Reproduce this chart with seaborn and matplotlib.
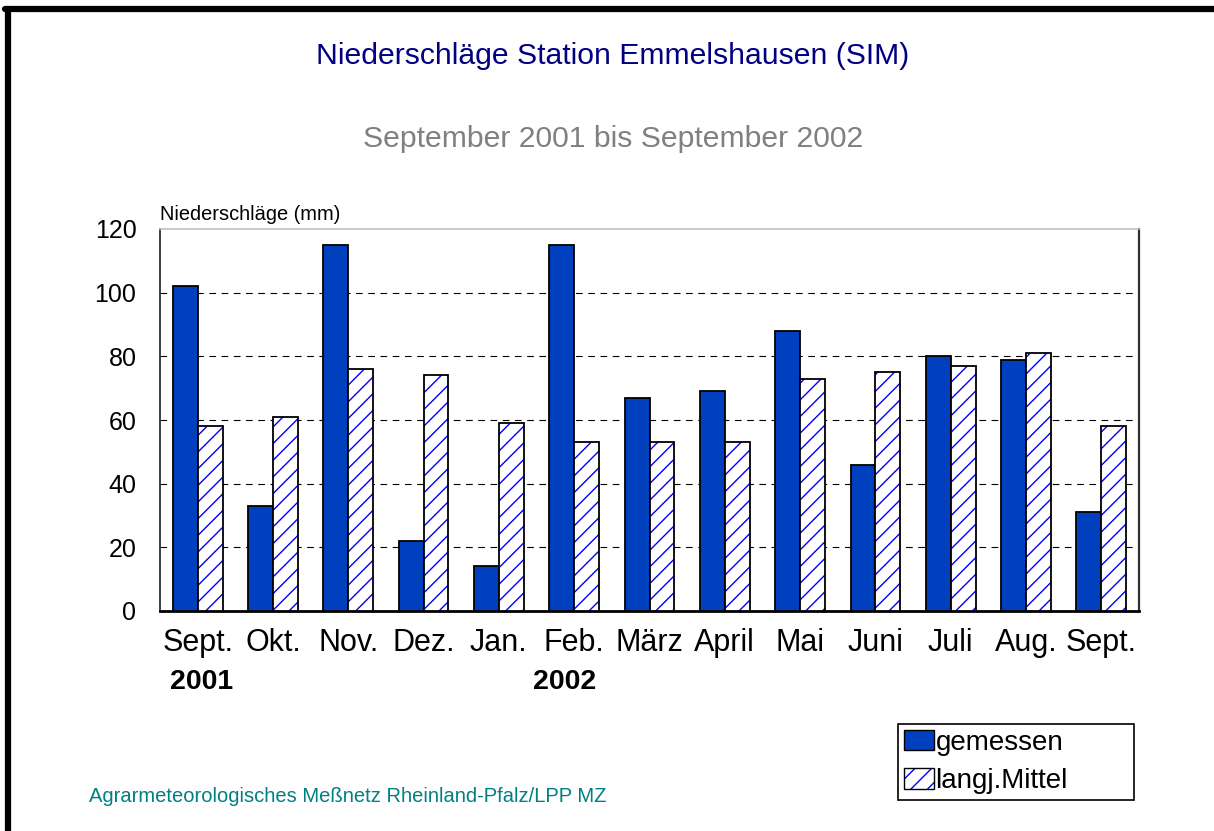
import numpy as np
import pandas as pd
import matplotlib
matplotlib.use("Agg")
import matplotlib.pyplot as plt
import matplotlib.colors as mcolors
from matplotlib.lines import Line2D
from matplotlib.patches import Patch
from matplotlib.transforms import blended_transform_factory
import seaborn as sns

# --- data ---
monat_keys = ["Sept01", "Okt", "Nov", "Dez", "Jan", "Feb", "Maerz",
              "April", "Mai", "Juni", "Juli", "Aug", "Sept02"]
monat_labels = ["Sept.", "Okt.", "Nov.", "Dez.", "Jan.", "Feb.", "März",
                "April", "Mai", "Juni", "Juli", "Aug.", "Sept."]
gemessen = [102, 33, 115, 22, 14, 115, 67, 69, 88, 46, 80, 79, 31]
langj_mittel = [58, 61, 76, 74, 59, 53, 53, 53, 73, 75, 77, 81, 58]
reihen = ["gemessen", "langj.Mittel"]
jahre = {"2001": 0, "2002": 5}
y_ticks = [0, 20, 40, 60, 80, 100, 120]

BLUE = "#0040BF"
HATCH_BLUE = "#0000FF"

df = pd.DataFrame({
    "monat": monat_keys * 2,
    "wert": gemessen + langj_mittel,
    "reihe": [reihen[0]] * len(monat_keys) + [reihen[1]] * len(monat_keys),
})

sns.set_style("white")
plt.rcParams["font.family"] = "Liberation Sans"
plt.rcParams["hatch.linewidth"] = 1.0
for key in ["text.color", "xtick.color", "ytick.color", "axes.labelcolor"]:
    plt.rcParams[key] = "black"

fig = plt.figure(figsize=(12.14, 8.31), dpi=100)
ax = fig.add_axes([160 / 1214, 1 - 611 / 831, (1139 - 160) / 1214, (611 - 229) / 831])

sns.barplot(data=df, x="monat", y="wert", hue="reihe", order=monat_keys,
            hue_order=reihen, palette=[BLUE, "white"], width=0.66,
            edgecolor="black", linewidth=1.3, errorbar=None, legend=False,
            saturation=1, ax=ax, zorder=3)

# hatched long-term mean: blue hatch lines, black outline
for p in ax.containers[1]:
    p.set_hatch("//")
    p._hatch_color = mcolors.to_rgba(HATCH_BLUE)
    p.stale = True

ax.set_ylim(0, 120)
ax.set_yticks(y_ticks)
ax.set_xlim(-0.5, len(monat_keys) - 0.5)
ax.set_xticks(range(len(monat_keys)))
ax.set_xticklabels(monat_labels, fontsize=22)
for lbl in ax.get_xticklabels():
    lbl.set_verticalalignment("baseline")
ax.tick_params(axis="y", labelsize=18, length=0, pad=17)
ax.tick_params(axis="x", length=0, pad=28.5)
ax.set_xlabel("")
ax.set_ylabel("")

for v in y_ticks[1:-1]:
    ax.axhline(v, color="black", linewidth=0.8, linestyle=(0, (6, 5)), zorder=1)

ax.spines["top"].set_color("#C0C0C0")
ax.spines["top"].set_linewidth(1.2)
ax.spines["right"].set_color("#303030")
ax.spines["right"].set_linewidth(1.6)
ax.spines["left"].set_color("#303030")
ax.spines["left"].set_linewidth(1.3)
ax.spines["bottom"].set_color("black")
ax.spines["bottom"].set_linewidth(2)

ax.text(0, 1.012, "Niederschläge (mm)", transform=ax.transAxes,
        fontsize=14.4, ha="left", va="bottom")

# bold year labels under the month ticks
trans = blended_transform_factory(ax.transData, ax.transAxes)
for jahr, idx in jahre.items():
    off = 0.05 if idx == 0 else -0.13
    ax.text(idx + off, -0.185, jahr, transform=trans, fontsize=20.5,
            fontweight="bold", ha="center", va="center")

fig.text(0.505, 1 - 56 / 831, "Niederschläge Station Emmelshausen (SIM)",
         color="#000080", fontsize=21.7, ha="center", va="center")
fig.text(0.505, 1 - 139 / 831, "September 2001 bis September 2002",
         color="#808080", fontsize=21.7, ha="center", va="center")
fig.text(89 / 1214, 1 - 797 / 831,
         "Agrarmeteorologisches Meßnetz Rheinland-Pfalz/LPP MZ",
         color="#008080", fontsize=14.5, ha="left", va="center")

handles = [Patch(facecolor=BLUE, edgecolor="black", linewidth=1),
           Patch(facecolor="white", edgecolor="black", linewidth=1, hatch="//")]
handles[1]._hatch_color = mcolors.to_rgba(HATCH_BLUE)
leg = fig.legend(handles, reihen, loc="upper left", mode="expand",
                 bbox_to_anchor=(898 / 1214, 1 - 800 / 831, 236 / 1214, 76 / 831),
                 fontsize=20, frameon=True, fancybox=False, edgecolor="black",
                 handlelength=1.1, handleheight=0.75, handletextpad=0.05,
                 borderpad=0.2, labelspacing=0.45, borderaxespad=0)
leg.get_frame().set_linewidth(1.2)
leg.get_frame().set_alpha(1)

# thick frame on the left and top edge of the picture
fig.add_artist(Line2D([8 / 1214, 8 / 1214], [0, 1 - 9 / 831], color="black",
                      linewidth=4.5, transform=fig.transFigure))
fig.add_artist(Line2D([5 / 1214, 1], [1 - 9 / 831, 1 - 9 / 831], color="black",
                      linewidth=4.5, transform=fig.transFigure))

fig.savefig("out.png", dpi=100, facecolor="white")
